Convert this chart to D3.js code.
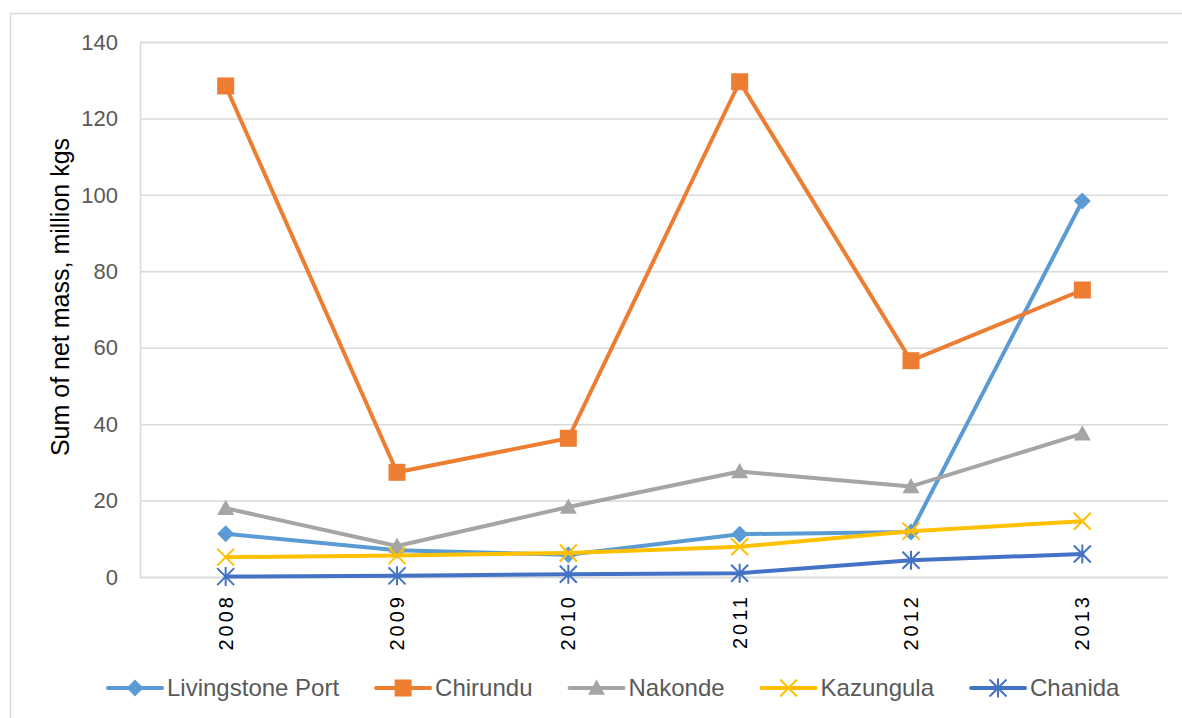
<!DOCTYPE html>
<html>
<head>
<meta charset="utf-8">
<script src="https://cdn.jsdelivr.net/npm/d3@7"></script>
<style>
  body { margin: 0; background: #fff; }
  svg { font-family: "Liberation Sans", Arial, sans-serif; }
</style>
</head>
<body>
<svg id="chart" width="1182" height="718"></svg>
<script>
// data
const years = ["2008", "2009", "2010", "2011", "2012", "2013"];
const livingstonePort = [11.3, 7.0, 5.8, 11.2, 11.8, 98.4];
const chirundu = [128.5, 27.4, 36.3, 129.6, 56.6, 75.1];
const nakonde = [18.0, 8.1, 18.3, 27.6, 23.7, 37.5];
const kazungula = [5.2, 5.6, 6.3, 7.9, 12.0, 14.6];
const chanida = [0.1, 0.3, 0.7, 1.0, 4.4, 6.0];
const yTicks = [0, 20, 40, 60, 80, 100, 120, 140];

const series = [
    { name: "Livingstone Port", values: livingstonePort, color: "#5B9BD5", marker: "diamond" },
    { name: "Chirundu", values: chirundu, color: "#ED7D31", marker: "square" },
    { name: "Nakonde", values: nakonde, color: "#A5A5A5", marker: "triangle" },
    { name: "Kazungula", values: kazungula, color: "#FFC000", marker: "x" },
    { name: "Chanida", values: chanida, color: "#4472C4", marker: "star" }
];

const svg = d3.select("#chart"),
    margin = {top: 42, right: 14, bottom: 141, left: 140},
    width = +svg.attr("width"),
    height = +svg.attr("height");

// outer chart border
svg.append("rect")
    .attr("x", 10.5).attr("y", 13.5)
    .attr("width", 1180).attr("height", 720)
    .attr("fill", "none")
    .attr("stroke", "#d9d9d9")
    .attr("stroke-width", 1.5);

const x = d3.scaleBand()
    .domain(years)
    .range([margin.left, width - margin.right]);

const y = d3.scaleLinear()
    .domain([0, 140])
    .range([height - margin.bottom, margin.top]);

// gridlines
svg.append("g")
    .attr("class", "grid")
    .attr("transform", "translate(" + margin.left + ",0)")
    .call(d3.axisLeft(y).tickValues(yTicks).tickSize(-(width - margin.right - margin.left)).tickFormat(""))
    .call(g => g.selectAll(".tick line").attr("stroke", "#d9d9d9").attr("stroke-width", 1.5))
    .call(g => g.select(".domain").attr("stroke", "#d9d9d9").attr("stroke-width", 1.5));

// y tick labels
svg.append("g")
    .selectAll("text")
    .data(yTicks)
    .enter().append("text")
    .attr("x", 118)
    .attr("y", d => y(d))
    .attr("dy", "0.35em")
    .attr("text-anchor", "end")
    .attr("font-size", 22)
    .attr("fill", "#595959")
    .text(d => d);

// x tick labels, rotated
svg.append("g")
    .selectAll("text")
    .data(years)
    .enter().append("text")
    .attr("transform", d => "translate(" + (x(d) + x.bandwidth() / 2) + "," + 594 + ") rotate(-90)")
    .attr("dy", "0.35em")
    .attr("text-anchor", "end")
    .attr("font-size", 20)
    .attr("letter-spacing", 3)
    .attr("fill", "#000")
    .text(d => d);

// y axis title
svg.append("text")
    .attr("transform", "translate(60,297) rotate(-90)")
    .attr("text-anchor", "middle")
    .attr("dy", "0.35em")
    .attr("font-size", 25)
    .attr("fill", "#000")
    .text("Sum of net mass, million kgs");

function drawMarker(g, type, color) {
    const s = 8.5;
    if (type === "diamond") {
        g.append("path").attr("d", `M0,${-s}L${s},0L0,${s}L${-s},0Z`).attr("fill", color);
    } else if (type === "square") {
        g.append("rect").attr("x", -s).attr("y", -s).attr("width", 2 * s).attr("height", 2 * s).attr("fill", color);
    } else if (type === "triangle") {
        g.append("path").attr("d", `M0,${-s}L${s},${s * 0.8}L${-s},${s * 0.8}Z`).attr("fill", color);
    } else if (type === "x") {
        g.append("path").attr("d", `M${-s},${-s}L${s},${s}M${-s},${s}L${s},${-s}`)
            .attr("stroke", color).attr("stroke-width", 2).attr("fill", "none");
    } else if (type === "star") {
        g.append("path").attr("d", `M${-s},${-s}L${s},${s}M${-s},${s}L${s},${-s}M0,${-s - 1}L0,${s + 1}`)
            .attr("stroke", color).attr("stroke-width", 2).attr("fill", "none");
    }
}

const line = d3.line()
    .x((d, i) => x(years[i]) + x.bandwidth() / 2)
    .y(d => y(d));

series.forEach(s => {
    const g = svg.append("g").attr("class", "series");
    g.append("path")
        .datum(s.values)
        .attr("d", line)
        .attr("fill", "none")
        .attr("stroke", s.color)
        .attr("stroke-width", 4)
        .attr("stroke-linejoin", "round")
        .attr("stroke-linecap", "round");
    s.values.forEach((v, i) => {
        const m = g.append("g")
            .attr("transform", "translate(" + (x(years[i]) + x.bandwidth() / 2) + "," + y(v) + ")");
        drawMarker(m, s.marker, s.color);
    });
});

// legend, laid out left to right from measured text widths
const legendY = 688;
let cursor = 107;
series.forEach(s => {
    const g = svg.append("g").attr("transform", "translate(" + cursor + "," + legendY + ")");
    g.append("line")
        .attr("x1", 1).attr("x2", 55)
        .attr("stroke", s.color)
        .attr("stroke-width", 4)
        .attr("stroke-linecap", "round");
    const m = g.append("g").attr("transform", "translate(28,0)");
    drawMarker(m, s.marker, s.color);
    const t = g.append("text")
        .attr("x", 60)
        .attr("dy", "0.35em")
        .attr("font-size", 24)
        .attr("fill", "#595959")
        .text(s.name);
    cursor += 60 + t.node().getComputedTextLength() + 36;
});
</script>
</body>
</html>
